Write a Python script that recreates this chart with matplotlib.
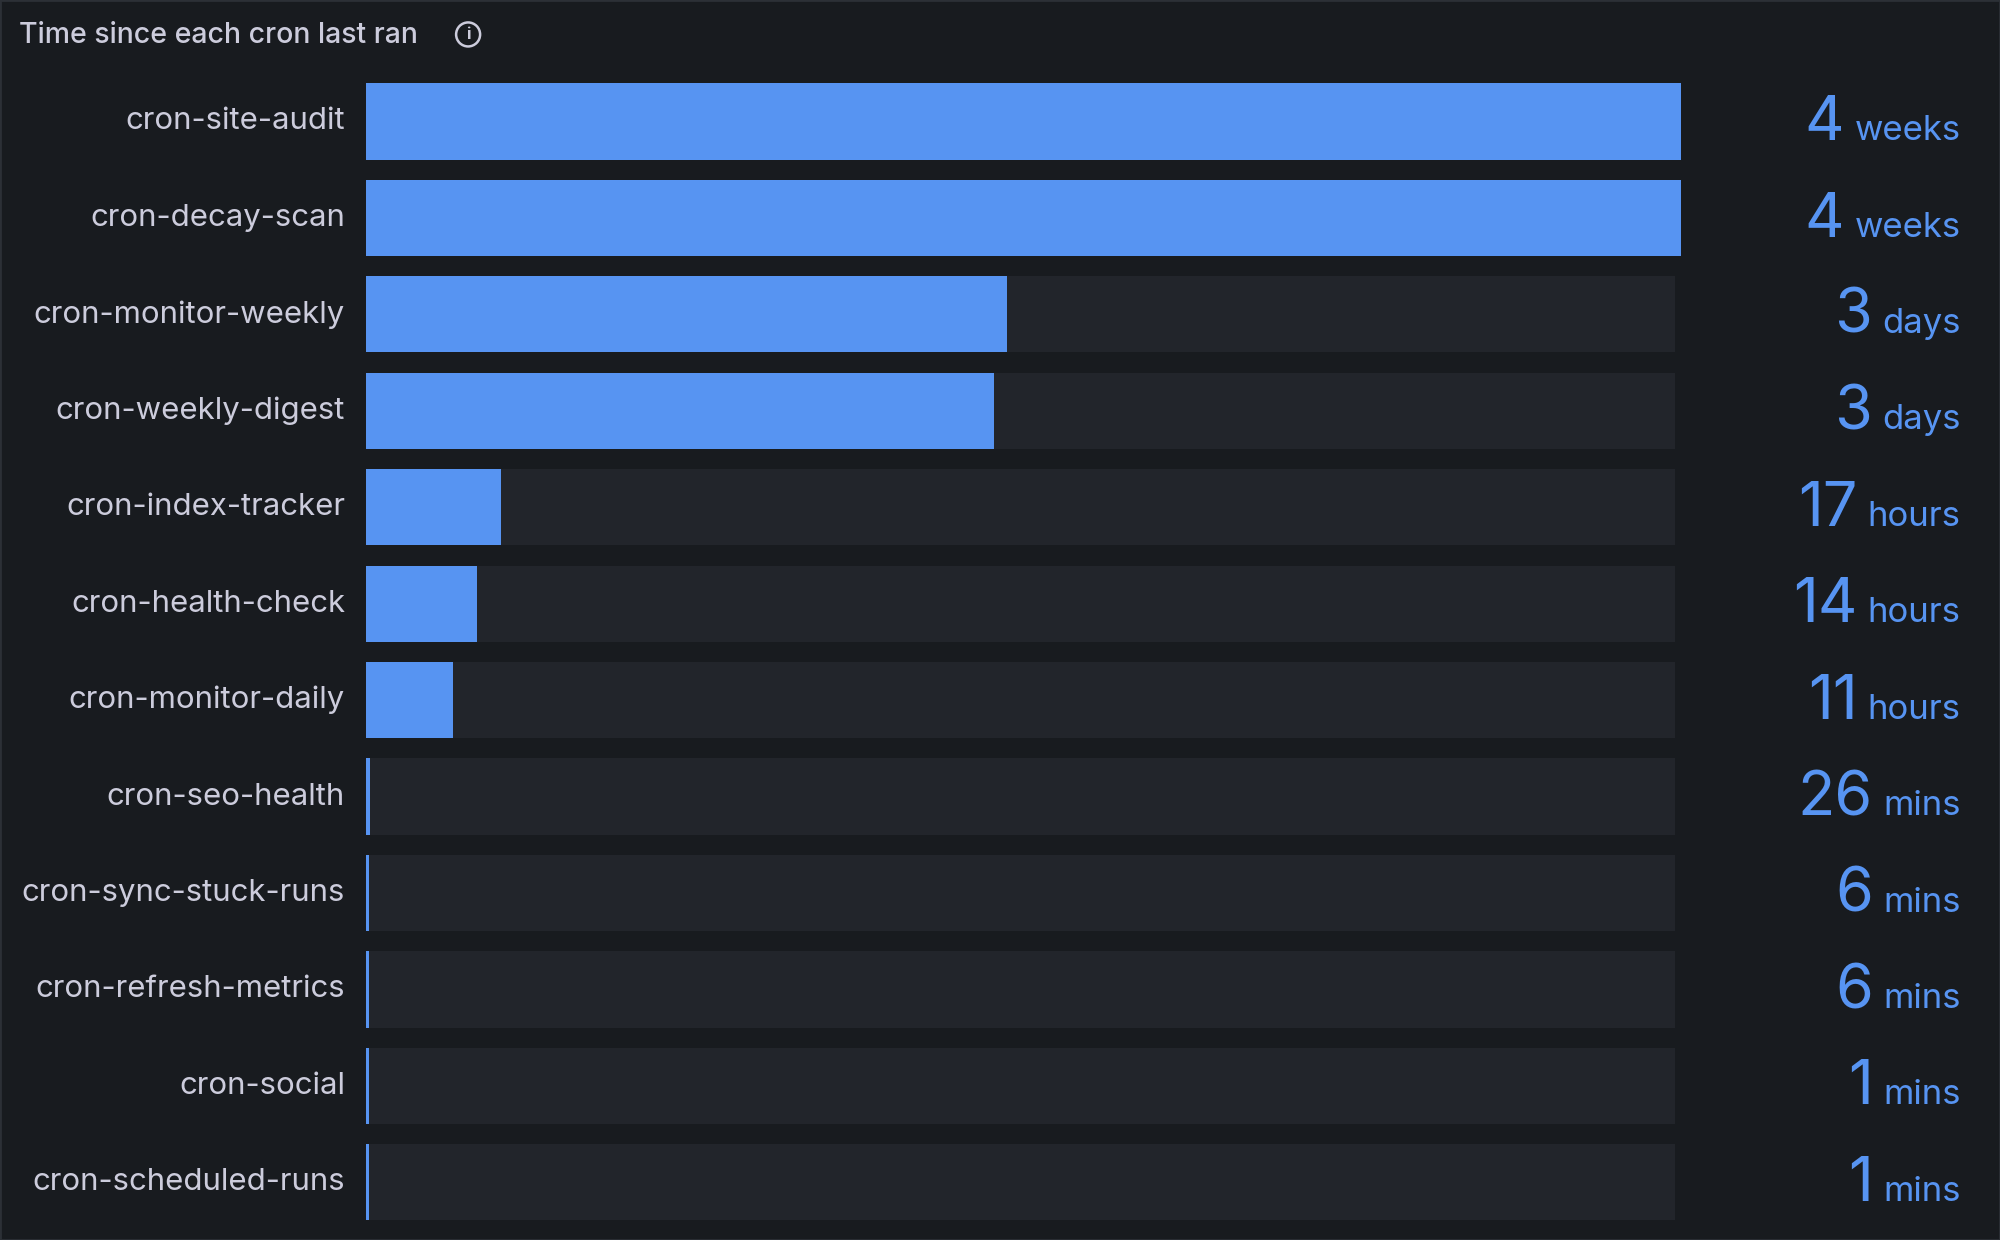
import matplotlib
matplotlib.use("Agg")
import matplotlib.pyplot as plt
from matplotlib.patches import Circle, Rectangle

names = ["cron-site-audit","cron-decay-scan","cron-monitor-weekly","cron-weekly-digest",
         "cron-index-tracker","cron-health-check","cron-monitor-daily","cron-seo-health",
         "cron-sync-stuck-runs","cron-refresh-metrics","cron-social","cron-scheduled-runs"]
hours = [672, 672, 73.5, 72, 15.5, 12.7, 10, 0.43, 0.1, 0.1, 0.017, 0.017]
value_nums = ["4","4","3","3","17","14","11","26","6","6","1","1"]
value_units = ["weeks","weeks","days","days","hours","hours","hours","mins","mins","mins","mins","mins"]
gauge_max = 150.0

BG = "#181b1f"; TRACK = "#22252b"; BAR = "#5794f2"; TXT = "#ccccdc"
W, H = 1568, 972
fig = plt.figure(figsize=(20, 12.4), dpi=100, facecolor=BG)
fig.patches.append(Rectangle((0, 0), 1, 1, transform=fig.transFigure, fill=False,
                             edgecolor="#2c3036", linewidth=2))
left, right = 287 / W, 1318 / W
top, bottom = 1 - 65 / H, 1 - 957 / H
ax = fig.add_axes([left, bottom, right - left, top - bottom])
ax.set_facecolor(BG)
n = len(names)
xmax = gauge_max * 1031 / 1026
ax.set_xlim(0, xmax)
ax.set_ylim(n - 0.5 - 0.1, -0.5 + 0.1)
ax.axis("off")
h = 0.79
for i, v in enumerate(hours):
    ax.barh(i, gauge_max, height=h, color=TRACK, zorder=1)
    w = min(v, xmax)
    w = max(w, gauge_max * 0.002)
    ax.barh(i, w, height=h, color=BAR, zorder=2)
    ax.text(-0.016 * xmax, i, names[i], ha="right", va="center", color=TXT,
            fontsize=22.4, family="Inter")

fig.canvas.draw()
r = fig.canvas.get_renderer()
xr = 1537 / W
for i in range(n):
    yd = ax.transData.transform((0, i))[1]
    yf = fig.transFigure.inverted().transform((0, yd))[1] - 0.015
    tu = fig.text(xr, yf, value_units[i], ha="right", va="baseline", color=BAR,
                  fontsize=25, family="Inter")
    bb = tu.get_window_extent(r)
    xl = fig.transFigure.inverted().transform((bb.x0, 0))[0] - 0.005
    fig.text(xl, yf, value_nums[i], ha="right", va="baseline", color=BAR,
             fontsize=44, family="Inter")

fig.text(15 / W, 1 - 28 / H, "Time since each cron last ran", ha="left", va="center",
         color=TXT, fontsize=20.5, family="Inter", weight="medium")
fig.patches.append(Circle((367 / W * 20 * 100, (1 - 27 / H) * 12.4 * 100), 12,
                          transform=None, fill=False, edgecolor=TXT, linewidth=1.8))
fig.text(367 / W, 1 - 27 / H, "i", ha="center", va="center", color=TXT,
         fontsize=12, family="Inter", weight="bold")
fig.savefig("out.png", dpi=100, facecolor=BG)
